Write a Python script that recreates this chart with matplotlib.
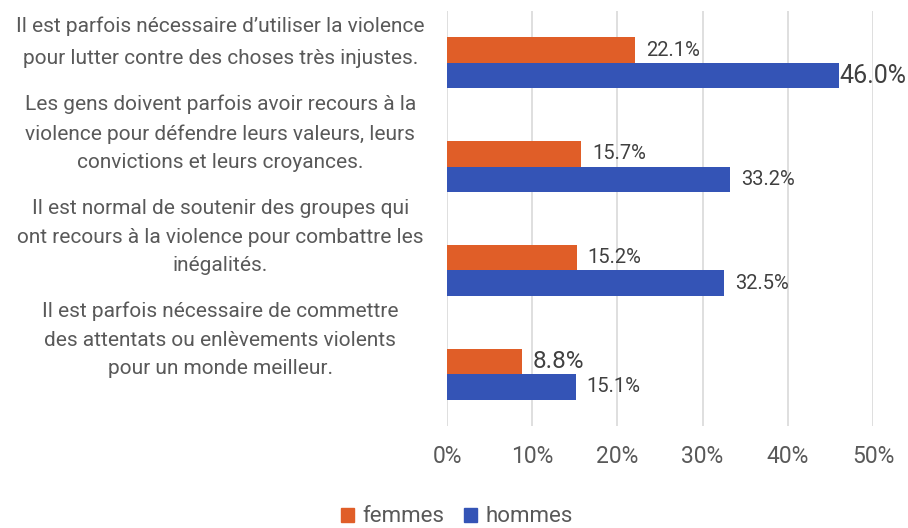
import matplotlib.pyplot as plt
import numpy as np
from matplotlib.patches import Patch

plt.rcParams['font.family'] = ['Roboto', 'DejaVu Sans']

# Data
categories = [
    "Il est parfois nécessaire d\u2019utiliser la violence\npour lutter contre des choses très injustes.",
    "Les gens doivent parfois avoir recours à la\nviolence pour défendre leurs valeurs, leurs\nconvictions et leurs croyances.",
    "Il est normal de soutenir des groupes qui\nont recours à la violence pour combattre les\ninégalités.",
    "Il est parfois nécessaire de commettre\ndes attentats ou enlèvements violents\npour un monde meilleur.",
]
femmes = [22.1, 15.7, 15.2, 8.8]
hommes = [46.0, 33.2, 32.5, 15.1]
series_names = ['femmes', 'hommes']
xticks = [0, 10, 20, 30, 40, 50]

ORANGE = '#E05E28'
BLUE = '#3454B6'
TEXT = '#595959'
LABEL = '#404040'

fig = plt.figure(figsize=(9.08, 5.28), dpi=100)
ax = fig.add_axes([447 / 908, 1 - 426 / 528, 426 / 908, 415 / 528])

y = np.arange(len(categories))
h = 0.245
bars_f = ax.barh(y - h / 2, femmes, height=h, color=ORANGE, zorder=3)
bars_h = ax.barh(y + h / 2, hommes, height=h, color=BLUE, zorder=3)

ax.set_xlim(0, 50)
ax.set_ylim(len(categories) - 0.5, -0.5)
ax.set_xticks(xticks)
ax.set_xticklabels([f'{t}%' for t in xticks], fontsize=16.5, color=TEXT)
ax.tick_params(axis='x', length=0, pad=14)
ax.set_yticks([])
ax.grid(axis='x', color='#D9D9D9', linewidth=1.2, zorder=0)
for s in ax.spines.values():
    s.set_visible(False)

# category labels (left, centered)
offsets = [0.2, 0.32, 0.32, 0.33]
spacings = [1.9, 1.62, 1.62, 1.62]
for i, (lab, off, ls) in enumerate(zip(categories, offsets, spacings)):
    ax.text(-0.532, i - off, lab, transform=ax.get_yaxis_transform(),
            ha='center', va='center', multialignment='center',
            fontsize=15, color=TEXT, linespacing=ls)

# value labels
def add_labels(bars, vals):
    for bar, v in zip(bars, vals):
        big = v in (46.0, 8.8)
        gap = 0.0 if v == 46.0 else 1.3
        ax.text(v + gap, bar.get_y() + bar.get_height() / 2, f'{v:.1f}%',
                ha='left', va='center', color=LABEL,
                fontsize=(18 if v == 46.0 else 17.5) if big else 14.5,
                zorder=4)

add_labels(bars_f, femmes)
add_labels(bars_h, hommes)

handles = [Patch(color=ORANGE), Patch(color=BLUE)]
fig.legend(handles, series_names, loc='center', bbox_to_anchor=(0.503, 0.021),
           ncol=2, frameon=False, fontsize=16, labelcolor=TEXT,
           handlelength=0.6, handleheight=0.6, handletextpad=0.35, columnspacing=0.9)

fig.savefig('out.png', dpi=100)
